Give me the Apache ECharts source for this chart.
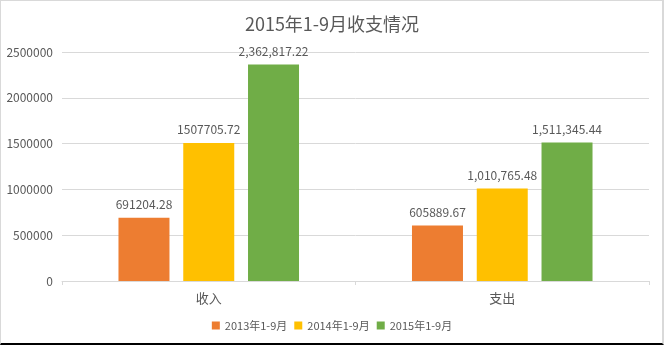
<!DOCTYPE html>
<html>
<head>
<meta charset="utf-8">
<script src="https://cdn.jsdelivr.net/npm/echarts@6/dist/echarts.min.js"></script>
<style>
  html, body { margin: 0; padding: 0; background: #fff; }
  #frame {
    position: absolute; left: 0; top: 0; width: 664px; height: 345px;
    box-sizing: border-box;
    border-left: 1px solid #d9d9d9; border-top: 1px solid #d9d9d9;
    border-right: 2px solid #d9d9d9; border-bottom: 2px solid #000;
  }
  #chart { position: absolute; left: 0; top: 0; width: 664px; height: 345px; }
</style>
</head>
<body>
<div id="chart"></div>
<div id="frame"></div>
<script>
// Categories and series
const categories = ['收入', '支出'];
const seriesNames = ['2013年1-9月', '2014年1-9月', '2015年1-9月'];
const values2013 = [691204.28, 605889.67];
const values2014 = [1507705.72, 1010765.48];
const values2015 = [2362817.22, 1511345.44];
// whether each value label uses thousands separators
const grouped2013 = [false, false];
const grouped2014 = [false, true];
const grouped2015 = [true, true];
const yTicks = [0, 500000, 1000000, 1500000, 2000000, 2500000];

const colors = ['#ED7D31', '#FFC000', '#70AD47'];
const textColor = '#595959';
const fontFamily = '"Microsoft YaHei", "Noto Sans CJK SC", "Open Sans", sans-serif';

function fmt(v, grouped) {
  const s = v.toFixed(2);
  if (!grouped) return s;
  const parts = s.split('.');
  return parts[0].replace(/\B(?=(\d{3})+(?!\d))/g, ',') + '.' + parts[1];
}

function makeSeries(name, values, grouped, color) {
  return {
    name: name,
    type: 'bar',
    data: values,
    barWidth: 51,
    barGap: '27%',
    itemStyle: { color: color },
    label: {
      show: true,
      position: 'top',
      distance: 7,
      color: textColor,
      fontSize: 12,
      fontFamily: fontFamily,
      formatter: p => fmt(p.value, grouped[p.dataIndex])
    }
  };
}

const chart = echarts.init(document.getElementById('chart'), null, { renderer: 'canvas' });
chart.setOption({
  animation: false,
  textStyle: { fontFamily: fontFamily },
  title: {
    text: '2015年1-9月收支情况',
    left: 'center',
    top: 10,
    textStyle: { color: textColor, fontSize: 18, fontWeight: 'normal', fontFamily: fontFamily }
  },
  legend: {
    data: seriesNames,
    bottom: 9,
    left: 'center',
    itemWidth: 8,
    itemHeight: 8,
    itemGap: 7,
    icon: 'rect',
    textStyle: { color: textColor, fontSize: 11, fontFamily: fontFamily }
  },
  grid: { left: 62, right: 15, top: 52, bottom: 64, containLabel: false, outerBoundsMode: 'none' },
  xAxis: {
    type: 'category',
    data: categories,
    axisLine: { lineStyle: { color: '#d9d9d9' } },
    axisTick: { show: true, length: 4, lineStyle: { color: '#d9d9d9' } },
    axisLabel: { color: textColor, fontSize: 13, margin: 11, fontFamily: fontFamily }
  },
  yAxis: {
    type: 'value',
    min: yTicks[0],
    max: yTicks[yTicks.length - 1],
    interval: yTicks[1] - yTicks[0],
    axisLine: { show: false },
    axisTick: { show: false },
    axisLabel: { color: textColor, fontSize: 12, margin: 9, fontFamily: fontFamily, formatter: v => String(v) },
    splitLine: { lineStyle: { color: '#d9d9d9' } }
  },
  series: [
    makeSeries(seriesNames[0], values2013, grouped2013, colors[0]),
    makeSeries(seriesNames[1], values2014, grouped2014, colors[1]),
    makeSeries(seriesNames[2], values2015, grouped2015, colors[2])
  ]
});
</script>
</body>
</html>
